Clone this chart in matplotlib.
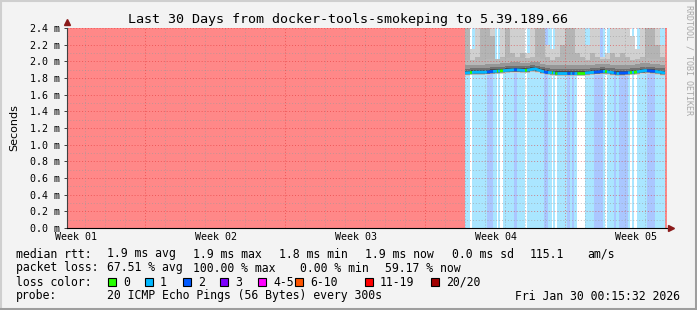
import numpy as np
import matplotlib.pyplot as plt
from matplotlib.patches import Rectangle
from matplotlib.lines import Line2D

# ---- time axis: days since start of the 30 day window ----
week_label_days = [0.45, 7.45, 14.45, 21.45, 28.45]
week_labels = ["Week 01", "Week 02", "Week 03", "Week 04", "Week 05"]
week_major_days = [3.9, 10.9, 17.9, 24.9]
data_start, data_end = 19.9, 29.9

# ---- loss per segment (start day, lost pings out of 20) ----
loss_start = [19.90, 20.15, 20.25, 21.00, 21.30, 21.50, 21.55, 21.65, 21.80, 22.35,
              22.50, 22.90, 23.00, 23.85, 24.05, 24.25, 24.30, 24.40, 24.50, 25.00,
              25.15, 25.25, 25.35, 25.50, 25.90, 26.35, 26.80, 26.90, 27.00, 27.35,
              27.45, 27.60, 28.05, 28.15, 28.25, 28.35, 28.50, 29.00, 29.40]
loss_count = [1, 0, 1, 2, 1, 0, 1, 0, 1, 2,
              1, 0, 1, 2, 1, 0, 1, 0, 1, 2,
              1, 2, 1, 0, 1, 2, 1, 0, 1, 2,
              1, 2, 1, 0, 1, 0, 1, 2, 1]

# ---- median rtt (ms), every half day from data start ----
median_days = [19.9, 20.4, 20.9, 21.4, 21.9, 22.4, 22.9, 23.4, 23.9, 24.4, 24.9,
               25.4, 25.9, 26.4, 26.9, 27.4, 27.9, 28.4, 28.9, 29.4, 29.9]
median_ms = [1.86, 1.87, 1.87, 1.88, 1.89, 1.90, 1.89, 1.91, 1.87, 1.86, 1.86,
             1.86, 1.86, 1.87, 1.88, 1.86, 1.86, 1.87, 1.89, 1.88, 1.86]

# ---- smoke bounds per quarter day bin (ms); 2.5 = beyond top of graph ----
smoke_top = [2.5, 2.15, 2.5, 2.5, 2.5, 2.5, 2.0, 2.5, 2.5, 2.5,
             2.5, 2.5, 2.1, 2.5, 2.5, 2.5, 2.2, 2.15, 2.5, 2.5,
             2.5, 2.5, 2.5, 2.4, 2.2, 2.5, 2.5, 2.05, 2.1, 2.5,
             2.5, 2.5, 2.5, 2.3, 2.15, 2.5, 2.5, 2.5, 2.5, 2.2]
smoke_mid = [2.5, 2.0, 2.05, 2.5, 2.5, 2.3, 1.97, 2.05, 2.5, 2.1,
             2.05, 2.1, 2.0, 2.05, 2.5, 2.5, 2.05, 2.0, 2.05, 2.2,
             2.5, 2.5, 2.1, 2.05, 2.0, 2.1, 2.05, 2.0, 2.0, 2.1,
             2.05, 2.1, 2.05, 2.0, 2.0, 2.05, 2.5, 2.5, 2.2, 2.05]

loss_colors = ["#26ff00", "#00b8ff", "#0059ff", "#7e00ff",
               "#ff00ff", "#ff5500", "#ff0000", "#a10000"]
loss_legend = ["0", "1", "2", "3", "4-5", "6-10", "11-19", "20/20"]
loss_bg = {0: "#ffffff", 1: "#aae6ff", 2: "#aac7ff"}

MONO = "DejaVu Sans Mono"

fig = plt.figure(figsize=(6.97, 3.10), dpi=100)
fig.patch.set_facecolor("#f3f3f3")
W, H = 697, 310

# rrdtool style frame
fig.add_artist(Line2D([0, 1], [1 - 0.5 / H, 1 - 0.5 / H], color="#cfcfcf", lw=1.5))
fig.add_artist(Line2D([0.5 / W, 0.5 / W], [0, 1], color="#cfcfcf", lw=1.5))
fig.add_artist(Line2D([0, 1], [1.5 / H, 1.5 / H], color="#9e9e9e", lw=2.2))
fig.add_artist(Line2D([1 - 1.5 / W, 1 - 1.5 / W], [0, 1], color="#9e9e9e", lw=2.2))

ax = fig.add_axes([67 / W, (H - 228) / H, 600 / W, 200 / H])
ax.set_xlim(0, 30)
ax.set_ylim(0, 2.4)
ax.set_facecolor("white")

# unknown / total loss area
ax.axvspan(0, data_start, color="#ff8888", lw=0, zorder=0)
ax.axvspan(data_end, 30, color="#ff8888", lw=0, zorder=0)

# loss background
loss_end = loss_start[1:] + [data_end]
for s, e, c in zip(loss_start, loss_end, loss_count):
    ax.axvspan(s, e, color=loss_bg[c], lw=0, zorder=0.5)

# smoke: light outer pings, darker towards the median
bin_w = 0.25
bin_left = np.arange(len(smoke_top)) * bin_w + data_start
bin_mid = bin_left + bin_w / 2
med_bin = np.interp(bin_mid, median_days, median_ms)
layers = [(-0.03, 0.15, "#b8b8b8"), (-0.025, 0.09, "#979797"),
          (-0.02, 0.05, "#707070"), (-0.012, 0.025, "#4a4a4a")]
for x0, m, top, mid in zip(bin_left, med_bin, smoke_top, smoke_mid):
    ax.add_patch(Rectangle((x0, m - 0.035), bin_w, top - m + 0.035, color="#d0d0d0", lw=0, zorder=1))
    ax.add_patch(Rectangle((x0, m), bin_w, mid - m, color="#b4b4b4", lw=0, zorder=1.1))
    for k, (lo, hi, col) in enumerate(layers):
        ax.add_patch(Rectangle((x0, m + lo), bin_w, hi - lo, color=col, lw=0, zorder=1.2 + 0.1 * k))

# grid on top
for v in np.arange(0.1, 2.4, 0.2):
    ax.axhline(v, color="#9a9a9a", lw=0.7, ls=(0, (1, 2)), alpha=0.6, zorder=3)
for v in np.arange(0.2, 2.41, 0.2):
    ax.axhline(v, color="#e03030", lw=0.7, ls=(0, (1, 2)), alpha=0.55, zorder=3)
for d in np.arange(0.9, 30, 1.0):
    if any(abs(d - m) < 0.01 for m in week_major_days):
        continue
    ax.axvline(d, color="#9a9a9a", lw=0.7, ls=(0, (1, 2)), alpha=0.6, zorder=3)
for d in week_major_days:
    ax.axvline(d, color="#e03030", lw=0.7, ls=(0, (1, 2)), alpha=0.55, zorder=3)

# median line coloured by loss
for s, e, c in zip(loss_start, loss_end, loss_count):
    xs = np.linspace(s, e, 12)
    ax.plot(xs, np.interp(xs, median_days, median_ms), color=loss_colors[c],
            lw=2.0, solid_capstyle="butt", zorder=4)

# axes styling
for side in ["top", "right"]:
    ax.spines[side].set_visible(False)
ax.spines["left"].set_color("#404040")
ax.spines["bottom"].set_color("#000000")
ax.spines["left"].set_zorder(5)
ax.spines["bottom"].set_zorder(5)
ax.set_yticks(np.arange(0, 2.41, 0.2))
ax.set_yticklabels([f"{v:.1f} m" for v in np.arange(0, 2.41, 0.2)],
                   fontfamily=MONO, fontsize=7.2)
ax.tick_params(axis="y", length=2, width=0.7, color="#404040", pad=3)
ax.set_xticks(week_label_days)
ax.set_xticklabels(week_labels, fontfamily=MONO, fontsize=7.2)
ax.tick_params(axis="x", length=0, pad=3)
ax.set_ylabel("Seconds", fontsize=8, labelpad=8)

# arrows
ax.plot([30.2], [0], marker=">", color="#8b1a1a", ms=5, clip_on=False, zorder=6)
ax.plot([0], [2.47], marker="^", color="#8b1a1a", ms=5, clip_on=False, zorder=6)

# title
fig.text(348 / W, 1 - 19 / H, "Last 30 Days from docker-tools-smokeping to 5.39.189.66",
         ha="center", va="center", fontfamily=MONO, fontsize=9.6)
fig.text(689 / W, 1 - 5 / H, "RRDTOOL / TOBI OETIKER", rotation=270, ha="center", va="top",
         fontfamily=MONO, fontsize=6, color="#a8a8a8")

# legend rows
FS = 8.3


def row(y, pieces):
    for x, s in pieces:
        fig.text(x / W, 1 - y / H, s, ha="left", va="center", fontfamily=MONO, fontsize=FS)


row(254, [(16, "median rtt:"), (107, "1.9 ms avg"), (193, "1.9 ms max"), (279, "1.8 ms min"),
          (365, "1.9 ms now"), (452, "0.0 ms sd"), (530, "115.1"), (587, "am/s")])
row(268, [(16, "packet loss:"), (107, "67.51 % avg"), (193, "100.00 % max"),
          (300, "0.00 % min"), (385, "59.17 % now")])
row(282, [(16, "loss color:")])
box_x = [108, 145, 183, 220, 258, 295, 365, 431]
for bx, col, lab in zip(box_x, loss_colors, loss_legend):
    fig.add_artist(Rectangle((bx / W, 1 - 286 / H), 8 / W, 8 / H, facecolor=col,
                             edgecolor="black", lw=0.8, transform=fig.transFigure))
    fig.text((bx + 15) / W, 1 - 282 / H, lab, ha="left", va="center", fontfamily=MONO, fontsize=FS)
row(296, [(16, "probe:"), (107, "20 ICMP Echo Pings (56 Bytes) every 300s")])
fig.text(680 / W, 1 - 296 / H, "Fri Jan 30 00:15:32 2026", ha="right", va="center",
         fontfamily=MONO, fontsize=FS)

fig.savefig("out.png", dpi=100, facecolor=fig.get_facecolor())
